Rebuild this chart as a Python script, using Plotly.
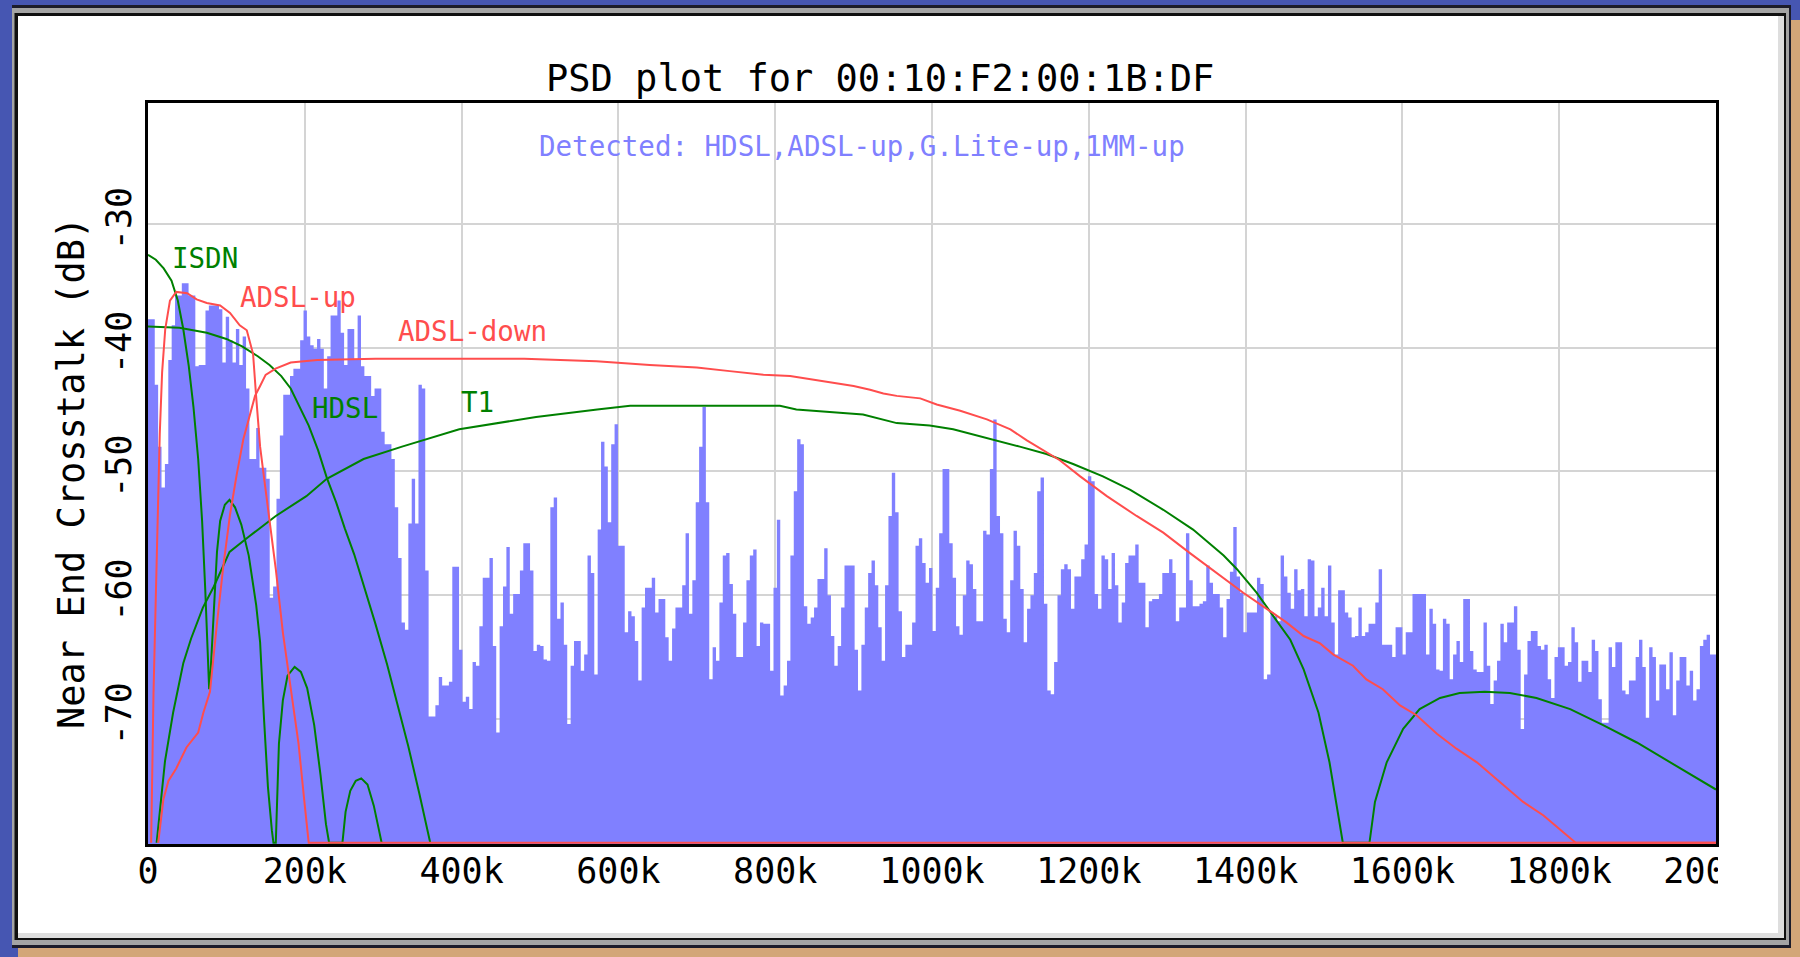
import plotly.graph_objects as go

# ---------------------------------------------------------------- canvas
W, H = 1800, 957
PLOT_L, PLOT_R, PLOT_T, PLOT_B = 148, 1716, 103, 844

# ---------------------------------------------------------------- data
TONE_KHZ = 4.3125          # width of one PSD bin (kHz)

# measured near-end crosstalk per bin (dB), bins start at 0 kHz
PSD_DB = [
    -37.7, -37.7, -43.0, -48.0, -51.3, -49.4, -41.0, -38.2, -35.8, -35.8,
    -34.8, -34.8, -35.8, -35.8, -41.5, -41.4, -41.4, -37.0, -36.6, -36.6,
    -36.6, -36.9, -41.2, -37.5, -39.4, -41.2, -38.5, -41.4, -39.1, -43.3,
    -49.0, -49.0, -46.5, -49.7, -49.7, -50.6, -60.2, -59.3, -52.2, -47.1,
    -43.8, -43.8, -42.3, -41.7, -41.7, -39.4, -37.0, -39.1, -39.8, -40.1,
    -39.3, -40.1, -43.3, -40.7, -37.4, -37.4, -36.2, -38.8, -41.4, -38.5,
    -38.5, -41.0, -37.4, -41.5, -42.3, -42.3, -43.9, -43.3, -43.3, -46.8,
    -47.8, -47.8, -49.0, -52.9, -57.0, -62.2, -62.8, -54.2, -50.6, -54.2,
    -43.0, -43.3, -58.0, -69.8, -69.8, -68.9, -66.6, -67.3, -67.3, -67.0,
    -57.7, -57.7, -64.4, -68.6, -68.2, -69.2, -65.4, -65.7, -62.5, -58.6,
    -58.6, -57.0, -64.1, -71.1, -62.5, -59.3, -56.1, -61.5, -59.9, -59.9,
    -58.0, -55.8, -55.8, -58.0, -64.5, -64.0, -64.1, -65.2, -65.3, -52.9,
    -52.1, -61.9, -60.6, -64.0, -70.4, -65.7, -63.7, -63.7, -66.1, -64.8,
    -56.8, -58.2, -66.4, -54.7, -47.6, -49.6, -54.1, -47.8, -46.2, -56.0,
    -56.0, -63.0, -61.3, -61.7, -63.7, -66.9, -61.0, -59.4, -59.4, -58.6,
    -61.4, -60.3, -60.3, -63.4, -65.3, -62.7, -61.0, -61.0, -59.2, -55.0,
    -61.5, -58.8, -52.5, -48.0, -44.8, -52.5, -66.8, -64.2, -65.3, -60.6,
    -56.8, -56.6, -59.1, -61.5, -65.0, -65.0, -62.2, -58.8, -56.8, -56.3,
    -64.1, -62.2, -62.3, -62.3, -66.1, -59.4, -53.9, -68.1, -67.3, -65.3,
    -56.8, -51.6, -47.4, -47.8, -60.9, -62.3, -61.8, -61.0, -58.7, -58.7,
    -56.2, -60.0, -63.3, -65.7, -64.1, -61.0, -57.6, -57.6, -57.6, -64.4,
    -67.7, -64.0, -61.0, -58.2, -57.2, -59.2, -62.6, -65.3, -59.2, -53.6,
    -50.1, -53.3, -61.3, -65.0, -64.0, -64.0, -62.2, -56.0, -55.4, -57.4,
    -59.0, -57.8, -62.9, -59.4, -55.0, -49.8, -49.8, -55.8, -58.6, -62.5,
    -63.2, -60.0, -57.2, -57.5, -59.5, -62.1, -62.1, -54.8, -55.1, -49.8,
    -45.8, -53.6, -55.0, -61.9, -63.0, -58.8, -54.8, -56.0, -59.5, -63.8,
    -61.1, -60.0, -58.2, -51.6, -50.5, -60.7, -67.7, -68.0, -65.4, -60.0,
    -57.9, -57.5, -57.9, -61.1, -58.5, -58.5, -57.1, -55.9, -50.4, -50.8,
    -59.9, -61.1, -56.8, -57.1, -59.5, -56.6, -59.2, -62.2, -60.6, -57.4,
    -56.8, -56.8, -55.9, -59.0, -59.0, -62.6, -60.5, -60.3, -60.3, -59.9,
    -58.2, -58.2, -57.1, -58.2, -62.1, -61.0, -61.0, -55.0, -58.8, -60.9,
    -60.9, -60.7, -60.5, -57.6, -59.0, -59.9, -59.9, -61.0, -63.4, -60.3,
    -58.1, -54.5, -58.5, -59.8, -63.0, -61.4, -61.4, -61.4, -58.6, -59.1,
    -66.8, -66.4, -61.4, -61.7, -62.1, -56.8, -58.5, -59.8, -61.1, -57.9,
    -59.6, -59.5, -61.7, -57.1, -57.2, -61.7, -61.0, -59.4, -61.7, -57.6,
    -62.2, -64.8, -59.6, -59.6, -61.4, -61.8, -63.4, -63.3, -61.0, -63.3,
    -63.0, -62.3, -62.3, -60.6, -57.9, -64.0, -64.0, -64.0, -65.0, -62.6,
    -62.6, -64.8, -63.0, -63.0, -59.9, -59.9, -59.9, -59.9, -64.8, -61.1,
    -62.3, -66.0, -66.1, -61.9, -62.3, -66.8, -64.8, -63.7, -65.4, -60.3,
    -60.3, -64.5, -66.0, -66.2, -66.2, -62.2, -65.7, -68.8, -66.9, -65.3,
    -62.3, -63.8, -62.2, -62.2, -60.9, -64.4, -70.8, -66.4, -63.7, -62.9,
    -62.9, -64.1, -64.4, -64.0, -66.8, -68.3, -65.0, -64.2, -64.2, -65.7,
    -65.4, -62.6, -63.8, -67.0, -65.3, -65.3, -66.2, -63.6, -64.5, -68.4,
    -70.3, -70.3, -64.2, -65.8, -63.8, -63.8, -67.7, -68.0, -66.9, -66.9,
    -65.0, -63.6, -65.8, -69.9, -64.2, -65.0, -68.5, -65.6, -65.6, -67.6,
    -64.6, -69.7, -66.9, -65.0, -65.0, -67.3, -66.1, -68.5, -67.6, -64.1,
    -63.6, -63.2, -64.8, -64.8,
]

# reference PSD masks (frequency kHz, level dB)
ISDN_F = [0, 10, 20, 30, 38, 45, 52, 58, 64, 69, 73, 76, 78, 80, 84, 88, 92,
          98, 104, 111, 119, 128.5, 138, 143, 148, 153, 158, 160, 163, 167,
          172, 178, 187, 195, 203, 212, 220, 227, 231, 248, 252, 258, 265,
          272, 280, 288, 294, 298]
ISDN_DB = [-32.5, -32.9, -33.6, -34.6, -36.2, -38.5, -41.5, -44.8, -49.0,
           -54.0, -59.5, -64.5, -67.6, -66.0, -61.0, -56.5, -54.0, -52.7,
           -52.3, -52.9, -54.3, -56.8, -60.8, -63.8, -70.0, -75.5, -79.0,
           -80.0, -80.0, -72.0, -68.5, -66.5, -65.8, -66.2, -67.5, -70.5,
           -74.5, -78.5, -80.0, -80.0, -77.5, -75.8, -75.0, -74.8, -75.3,
           -77.0, -78.8, -80.0]

HDSL_F = [0, 40, 75, 100, 120, 140, 155, 170, 182, 194, 205, 217, 228, 240,
          251, 263, 276, 290, 305, 318, 332, 346, 356, 360]
HDSL_DB = [-38.3, -38.4, -38.8, -39.3, -39.9, -40.7, -41.4, -42.3, -43.3,
           -44.9, -46.3, -48.3, -50.5, -52.5, -54.6, -56.7, -59.3, -62.3,
           -65.6, -68.7, -72.2, -76.0, -79.0, -80.0]

T1_F = [11, 16, 21.7, 32, 45, 55, 70, 84, 104, 128, 163, 202, 228, 275, 324,
        397, 495, 573, 615, 700, 806, 827, 912, 955, 997, 1027, 1070, 1112,
        1146, 1180, 1218, 1253, 1295, 1333, 1372, 1389, 1414, 1435, 1457,
        1474, 1493, 1507, 1518, 1524, 1558, 1565, 1580, 1601, 1622, 1648,
        1673, 1705, 1737, 1771, 1814, 1856, 1899, 1941, 2000]
T1_DB = [-80.0, -77.0, -73.4, -69.5, -65.5, -63.5, -61.0, -59.3, -56.5,
         -55.3, -53.6, -52.0, -50.6, -49.0, -48.0, -46.6, -45.6, -45.0,
         -44.7, -44.7, -44.7, -45.0, -45.4, -46.1, -46.3, -46.6, -47.3,
         -48.0, -48.6, -49.4, -50.4, -51.5, -53.1, -54.7, -56.8, -57.9,
         -59.8, -61.7, -63.6, -66.0, -69.5, -73.5, -77.5, -80.0, -80.0,
         -76.7, -73.5, -70.8, -69.2, -68.3, -67.9, -67.8, -67.9, -68.3,
         -69.2, -70.5, -71.9, -73.5, -75.7]

ADSL_UP_F = [4, 7, 10, 12, 15, 18, 22, 28, 36, 50, 62, 75, 92, 104.6, 117,
             126, 134, 138, 143, 148, 155, 163, 172, 182, 192, 200, 205, 2000]
ADSL_UP_DB = [-80.0, -68.0, -60.0, -54.0, -47.0, -42.0, -38.5, -36.2, -35.5,
              -35.6, -36.1, -36.4, -36.6, -37.2, -38.2, -38.6, -40.5, -44.0,
              -48.0, -50.5, -53.9, -57.9, -63.0, -67.5, -72.0, -77.0, -80.0,
              -80.0]

ADSL_DOWN_F = [13, 19.6, 26, 36, 49, 64, 70.6, 79, 87.6, 96, 104.6, 113,
               121.6, 130, 136.5, 143, 150, 162.7, 182, 216, 290, 480, 572,
               640, 700, 742, 785, 819, 848, 878, 900, 921, 938, 955, 985,
               1006, 1036, 1070, 1100, 1121, 1142, 1163, 1189, 1223, 1261,
               1295, 1329, 1367, 1397, 1427, 1452, 1474, 1495, 1512, 1537,
               1554, 1575, 1597, 1618, 1644, 1669, 1695, 1726, 1754, 1780,
               1801, 1818, 1821, 2000]
ADSL_DOWN_DB = [-80.0, -76.5, -75.0, -74.0, -72.3, -71.1, -69.5, -67.8,
                -62.5, -57.7, -53.5, -50.3, -47.4, -45.5, -43.9, -43.1,
                -42.2, -41.7, -41.2, -41.0, -40.9, -40.9, -41.1, -41.4,
                -41.6, -41.9, -42.2, -42.3, -42.6, -42.85, -43.1, -43.4,
                -43.7, -43.9, -44.1, -44.6, -45.1, -45.8, -46.6, -47.5,
                -48.3, -49.1, -50.4, -52.0, -53.6, -54.95, -56.6, -58.4,
                -59.8, -61.1, -62.2, -63.3, -63.9, -64.8, -65.7, -66.8,
                -67.6, -68.9, -69.7, -71.2, -72.4, -73.5, -75.2, -76.7,
                -77.8, -78.9, -79.8, -80.0, -80.0]

X_TICKS = [0, 200, 400, 600, 800, 1000, 1200, 1400, 1600, 1800, 2000]
X_TICK_LABELS = ["0", "200k", "400k", "600k", "800k", "1000k", "1200k",
                 "1400k", "1600k", "1800k", "2000k"]
Y_TICKS = [-70, -60, -50, -40, -30]
Y_TICK_LABELS = ["-70", "-60", "-50", "-40", "-30"]

X_RANGE = [0, 2000]
Y_RANGE = [-80.1, -20.24]

# ---------------------------------------------------------------- style
FONT = "DejaVu Sans Mono"
BAR_BLUE = "#8080ff"
RED = "#ff4d4d"
GREEN = "#008000"
GRID = "#d4d4d4"


def px(x):
    """pixel column -> paper x"""
    return (x - PLOT_L) / (PLOT_R - PLOT_L)


def py(y):
    """pixel row -> paper y"""
    return (PLOT_B - y) / (PLOT_B - PLOT_T)


fig = go.Figure()

# filled PSD histogram (step outline filled down to the axis floor)
n = len(PSD_DB)
edges = [i * TONE_KHZ for i in range(n + 1)]
fig.add_trace(go.Scatter(x=[edges[0], edges[-1]], y=[Y_RANGE[0]] * 2,
                         mode="lines", line=dict(width=0, color=BAR_BLUE),
                         hoverinfo="skip", showlegend=False))
fig.add_trace(go.Scatter(x=edges, y=PSD_DB + [PSD_DB[-1]], mode="lines",
                         line=dict(width=0, color=BAR_BLUE, shape="hv"),
                         fill="tonexty", fillcolor=BAR_BLUE,
                         name="PSD", showlegend=False))

for f, db, col, name in [
    (ISDN_F, ISDN_DB, GREEN, "ISDN"),
    (HDSL_F, HDSL_DB, GREEN, "HDSL"),
    (T1_F, T1_DB, GREEN, "T1"),
    (ADSL_DOWN_F, ADSL_DOWN_DB, RED, "ADSL-down"),
    (ADSL_UP_F, ADSL_UP_DB, RED, "ADSL-up"),
]:
    fig.add_trace(go.Scatter(x=f, y=db, mode="lines", name=name,
                             line=dict(color=col, width=2),
                             showlegend=False))

# ---------------------------------------------------------------- frame shapes
def rect(x0, y0, x1, y1, color, layer="below"):
    return dict(type="rect", xref="paper", yref="paper",
                x0=px(x0), x1=px(x1), y0=py(y1), y1=py(y0),
                fillcolor=color, line=dict(width=0), layer=layer)


shapes = [
    rect(18, 20, 1810, 970, "#d3a678"),          # tan backdrop
    rect(12, 5, 1791, 948, "#1c1c2a"),           # outer dark edge
    rect(12, 8, 1789, 945, "#a4a4a4"),           # grey bevel
    rect(14.5, 13, 1786, 940, "#101010"),        # inner black line
    rect(18, 16, 1784, 938, "#dedede"),          # light bevel
    rect(18, 16, 1778, 933, "#ffffff"),          # white panel
    rect(1718, 848, 1777, 910, "#ffffff", layer="above"),  # trims last x label
]

# ---------------------------------------------------------------- text
def label(x, y, text, color, size, xanchor="left", angle=0):
    return dict(xref="paper", yref="paper", x=px(x), y=py(y), text=text,
                showarrow=False, xanchor=xanchor, yanchor="middle",
                textangle=angle, font=dict(family=FONT, size=size, color=color))


annotations = [
    label(880, 79, "PSD plot for 00:10:F2:00:1B:DF", "#000000", 37, "center"),
    label(862, 146, "Detected: HDSL,ADSL-up,G.Lite-up,1MM-up", BAR_BLUE, 27.5,
          "center"),
    label(71, 473, "Near End Crosstalk (dB)", "#000000", 37, "center", -90),
    label(170, 258, "ISDN", GREEN, 27.5),
    label(238, 297, "ADSL-up", RED, 27.5),
    label(396, 331, "ADSL-down", RED, 27.5),
    label(310, 408, "HDSL", GREEN, 27.5),
    label(459, 402, "T1", GREEN, 27.5),
]

fig.update_layout(
    width=W, height=H, autosize=False,
    margin=dict(l=PLOT_L, r=W - PLOT_R, t=PLOT_T, b=H - PLOT_B, pad=0),
    paper_bgcolor="#4656b2", plot_bgcolor="#ffffff",
    font=dict(family=FONT, color="#000000"),
    shapes=shapes, annotations=annotations, showlegend=False,
    xaxis=dict(range=X_RANGE, tickvals=X_TICKS, ticktext=X_TICK_LABELS,
               showgrid=True, gridcolor=GRID, gridwidth=2, zeroline=False,
               showline=True, linecolor="#000000", linewidth=2.5, mirror=True,
               ticks="", tickfont=dict(size=35, family=FONT),
               ticklabelstandoff=-6,
               layer="below traces", fixedrange=True),
    yaxis=dict(range=Y_RANGE, tickvals=Y_TICKS, ticktext=Y_TICK_LABELS,
               showgrid=True, gridcolor=GRID, gridwidth=2, zeroline=False,
               showline=True, linecolor="#000000", linewidth=2.5, mirror=True,
               ticks="", tickangle=-90, tickfont=dict(size=35, family=FONT),
               layer="below traces", fixedrange=True),
)

fig.write_html("out.html")
